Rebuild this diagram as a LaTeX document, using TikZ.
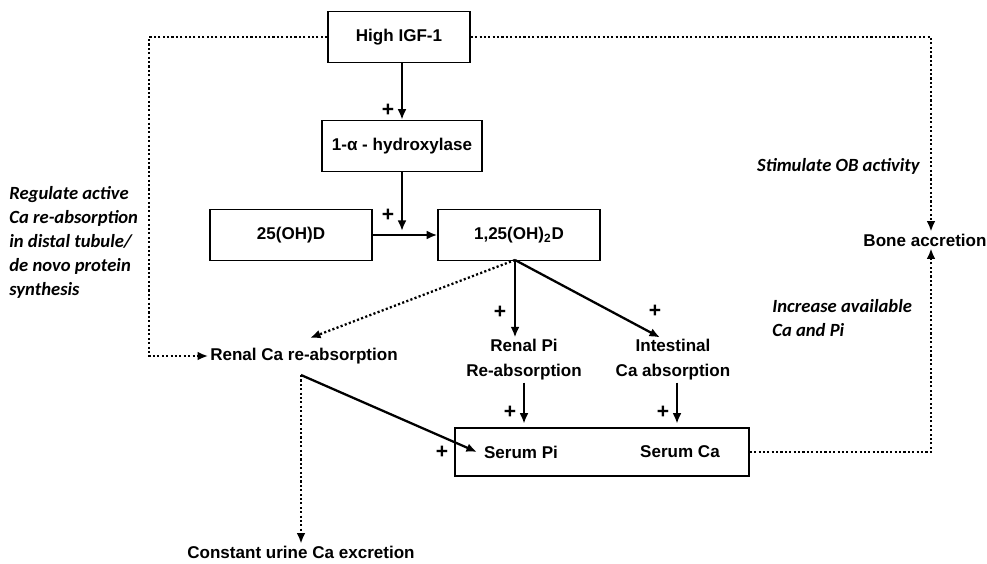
\documentclass[tikz,border=0pt]{standalone}
\usepackage{fontspec}
\setmainfont{Liberation Sans}
\newfontfamily\notefont{Carlito}
\usetikzlibrary{positioning}
\usetikzlibrary{arrows.meta}

\tikzset{
  stepbox/.style={draw, line width=0.85pt, minimum height=1.02cm, inner sep=2pt,
    font=\bfseries\fontsize{9.7}{14}\selectfont},
  plain/.style={inner sep=1pt, align=center, font=\bfseries\fontsize{9.7}{14.2}\selectfont},
  note/.style={inner sep=0pt, align=left,
    font=\notefont\bfseries\itshape\fontsize{10.6}{13.6}\selectfont},
  plus/.style={inner sep=0pt, font=\bfseries\fontsize{12}{12}\selectfont},
  act/.style={line width=1.3pt, -{Latex[length=6pt,width=5pt]}},
  dots/.style={line width=1.3pt, dash pattern=on 1.2pt off 1.3pt,
    -{Latex[length=6pt,width=5pt]}}
}

\begin{document}
\begin{tikzpicture}[x=0.02cm, y=-0.02cm]
\useasboundingbox (0,0) rectangle (987,564);
% boxes of the vitamin D chain
\node[stepbox, minimum width=2.84cm] (igf) at (399,37) {High IGF-1};
\node[stepbox, minimum width=3.2cm] (hyd) at (402,146) {1-α - hydroxylase};
\node[stepbox, minimum width=3.24cm] (d25) at (291,235) {25(OH)D};
\node[stepbox, minimum width=3.24cm] (d125) at (519,235) {1,25(OH)\textsubscript{2}D};
\coordinate (join) at (402,231);
\coordinate (split) at (515,260);
\draw[act] (igf.south -| hyd) -- (hyd.north);
\draw[act] (hyd) -- (join);
\draw[act] (d25) -- (d125);
\node[plus] (p1) at (388,110) {+};
\node[plus] (p2) at (388,215) {+};

% effects
\node[plain] (renalca) at (304,356) {Renal Ca re-absorption};
\node[plain] (renalpi) at (524,360) {Renal Pi\\Re-absorption};
\node[plain] (intest) at (673,360) {Intestinal\\Ca absorption};
\coordinate (rcin) at (310,338);
\draw[dots] (split) -- (rcin);
\draw[act] (split) -- (renalpi.north -| split);
\draw[act] (split) -- ([xshift=-0.26cm]intest.north);
\node[plus] (p3) at (500,312) {+};
\node[plus] (p4) at (655,311) {+};

% serum
\node[draw, line width=0.85pt, minimum width=5.88cm, minimum height=0.96cm] (serum) at (602,452) {};
\node[plain] (serumpi) at (521,452) {Serum Pi};
\node[plain] (serumca) at (680,452) {Serum Ca};
\draw[act, shorten >=2pt] (renalpi.south) -- (renalpi.south |- serum.north);
\draw[act, shorten >=2pt] ([xshift=0.08cm]intest.south) -- ([xshift=0.08cm]intest.south |- serum.north);
\node[plus] (p5) at (510,412) {+};
\node[plus] (p6) at (663,412) {+};
\node[plus] (p7) at (442,452) {+};

% renal calcium
\coordinate (rcout) at (301,375);
\node[plain] (urine) at (301,552) {Constant urine Ca excretion};
\draw[act] (rcout) -- ([xshift=-0.1cm]serumpi.west);
\draw[dots] (rcout) -- (urine.north);
\draw[dots] (igf.west) -- ++(-178,0) |- (renalca.west);

% bone
\node[plain] (bone) at (925,240) {Bone accretion};
\draw[dots] (igf.east) -| ([xshift=0.12cm]bone.north);
\draw[dots] (serum.east) -| ([xshift=0.12cm]bone.south);

% notes
\node[note, anchor=east] (stim) at (920,166) {Stimulate OB activity};
\node[note, anchor=north west] (incr) at (772,299) {Increase available\\Ca and Pi};
\node[note, anchor=north west] (regul) at (9,186) {Regulate active\\Ca re-absorption\\in distal tubule/\\de novo protein\\synthesis};
\end{tikzpicture}
\end{document}
